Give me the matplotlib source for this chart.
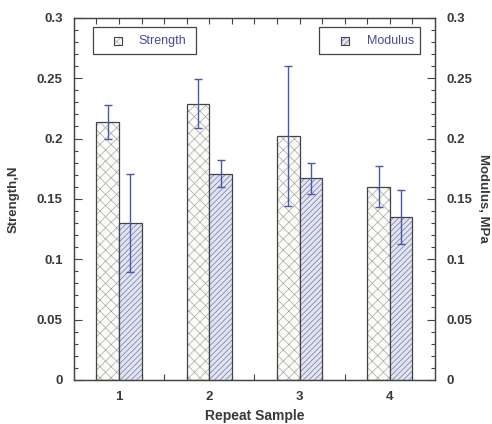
import numpy as np
import matplotlib
matplotlib.use("Agg")
import matplotlib.pyplot as plt
from matplotlib.patches import Rectangle
from matplotlib.ticker import MultipleLocator, FixedLocator

# repeat samples and measured means / spreads
samples = [1, 2, 3, 4]
strength = [0.214, 0.229, 0.202, 0.160]
strength_err = [0.014, 0.020, 0.058, 0.017]
modulus = [0.130, 0.171, 0.167, 0.135]
modulus_err = [0.041, 0.011, 0.013, 0.022]
y_ticks = [0, 0.05, 0.1, 0.15, 0.2, 0.25, 0.3]
y_ticklabels = ["0", "0.05", "0.1", "0.15", "0.2", "0.25", "0.3"]

plt.rcParams['font.family'] = ['Liberation Sans', 'DejaVu Sans']
plt.rcParams['hatch.linewidth'] = 0.5

txt_col = '#3a3a3a'
err_col = '#4a58a8'
edge_col = '#444444'

fig = plt.figure(figsize=(4.92, 4.24), dpi=100)
ax = fig.add_axes([0.150, 0.104, 0.734, 0.854])
ax2 = ax.twinx()

x = np.array(samples)
w = 0.25

# hatch layer first (hatch takes the edge colour), outline drawn over it
ax.bar(x - w / 2, strength, w, color='#fbfbf8', edgecolor='#a8a8a8',
       hatch='xxx', linewidth=0)
ax.bar(x - w / 2, strength, w, fill=False, edgecolor=edge_col, linewidth=0.9)
ax.errorbar(x - w / 2, strength, yerr=strength_err, fmt='none',
            ecolor=err_col, elinewidth=1, capsize=3, capthick=1)

ax2.bar(x + w / 2, modulus, w, color='#e2e4f0', edgecolor='#6d78a8',
        hatch='//////', linewidth=0)
ax2.bar(x + w / 2, modulus, w, fill=False, edgecolor=edge_col, linewidth=0.9)
ax2.errorbar(x + w / 2, modulus, yerr=modulus_err, fmt='none',
             ecolor=err_col, elinewidth=1, capsize=3, capthick=1)

for a in (ax, ax2):
    a.set_xlim(0.5, 4.5)
    a.set_ylim(0, 0.3)
    a.set_yticks(y_ticks)
    a.set_yticklabels(y_ticklabels)
    a.yaxis.set_minor_locator(MultipleLocator(0.01))
    for s in a.spines.values():
        s.set_color(edge_col)
        s.set_linewidth(0.9)

ax.set_xticks(samples)
ax.xaxis.set_minor_locator(FixedLocator([0.75, 1.25, 1.5, 1.75, 2.25, 2.5, 2.75,
                                         3.25, 3.5, 3.75, 4.25]))
ax.tick_params(axis='x', which='both', direction='in', top=True, length=4,
               width=0.8, color=edge_col, pad=8)
ax.tick_params(axis='y', which='major', direction='in', left=True, right=False,
               length=6, width=0.8, color=edge_col, pad=8)
ax.tick_params(axis='y', which='minor', direction='in', left=True, right=False,
               length=3, width=0.8, color=edge_col)
ax2.tick_params(axis='y', which='major', direction='in', length=6, width=0.8,
                color=edge_col, pad=8)
ax2.tick_params(axis='y', which='minor', direction='in', length=3, width=0.8,
                color=edge_col)

for lab in ax.get_xticklabels() + ax.get_yticklabels() + ax2.get_yticklabels():
    lab.set_fontsize(9.5)
    lab.set_fontweight('bold')
    lab.set_color(txt_col)

ax.set_xlabel("Repeat Sample", fontsize=10, fontweight='bold', color=txt_col,
              labelpad=4)
ax.set_ylabel("Strength,N", fontsize=9.5, fontweight='bold', color=txt_col,
              va='center')
ax.yaxis.set_label_coords(-0.166, 0.5)
ax2.set_ylabel("Modulus, MPa", fontsize=9.5, fontweight='bold', color=txt_col,
               rotation=270, va='center')
ax2.yaxis.set_label_coords(1.133, 0.5)

# boxed keys, one per series
keys = [
    ((0.053, 0.900, 0.285, 0.075), (0.111, 0.925), 0.180, "Strength",
     '#fbfbf8', '#a8a8a8', 'xxxx'),
    ((0.679, 0.900, 0.279, 0.075), (0.740, 0.925), 0.812, "Modulus",
     '#e2e4f0', '#6d78a8', '//////'),
]
for box, hpos, tx, name, fc, hc, hatch in keys:
    ax2.add_patch(Rectangle(box[:2], box[2], box[3], transform=ax2.transAxes,
                            facecolor='white', edgecolor=edge_col,
                            linewidth=0.9, zorder=5))
    ax2.add_patch(Rectangle(hpos, 0.022, 0.022, transform=ax2.transAxes,
                            facecolor=fc, edgecolor=hc, hatch=hatch,
                            linewidth=0, zorder=6))
    ax2.add_patch(Rectangle(hpos, 0.022, 0.022, transform=ax2.transAxes,
                            fill=False, edgecolor=edge_col, linewidth=0.8,
                            zorder=7))
    ax2.text(tx, hpos[1] + 0.012, name, transform=ax2.transAxes, fontsize=9,
             color='#4848a0', va='center', ha='left', zorder=7)

fig.savefig("out.png", dpi=100)
